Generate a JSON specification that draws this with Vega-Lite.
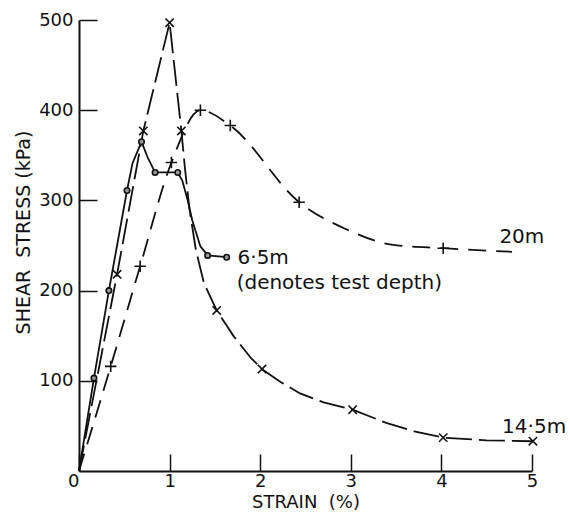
{
  "$schema": "https://vega.github.io/schema/vega-lite/v6.json",
  "width": 453,
  "height": 451,
  "autosize": {"type": "none"},
  "padding": {"left": 79, "top": 20, "right": 38, "bottom": 44},
  "background": "white",
  "config": {
    "view": {"stroke": null},
    "axis": {
      "grid": false,
      "domainColor": "#111",
      "tickColor": "#111",
      "labelColor": "#111",
      "titleColor": "#111",
      "labelFont": "DejaVu Sans",
      "titleFont": "DejaVu Sans",
      "titleFontWeight": "normal",
      "labelFontSize": 18,
      "titleFontSize": 19,
      "domainWidth": 2,
      "tickWidth": 1.5
    }
  },
  "datasets": {
    "curves": [
      {"depth": "6.5 m", "strain": 0, "stress": 0, "measured": false},
      {"depth": "6.5 m", "strain": 0.165, "stress": 103, "measured": true},
      {"depth": "6.5 m", "strain": 0.33, "stress": 200, "measured": true},
      {"depth": "6.5 m", "strain": 0.53, "stress": 311, "measured": true},
      {"depth": "6.5 m", "strain": 0.59, "stress": 341, "measured": false},
      {"depth": "6.5 m", "strain": 0.69, "stress": 365, "measured": true},
      {"depth": "6.5 m", "strain": 0.76, "stress": 347, "measured": false},
      {"depth": "6.5 m", "strain": 0.84, "stress": 331, "measured": true},
      {"depth": "6.5 m", "strain": 1.09, "stress": 331, "measured": true},
      {"depth": "6.5 m", "strain": 1.14, "stress": 322, "measured": false},
      {"depth": "6.5 m", "strain": 1.2, "stress": 300, "measured": false},
      {"depth": "6.5 m", "strain": 1.25, "stress": 278, "measured": false},
      {"depth": "6.5 m", "strain": 1.34, "stress": 249, "measured": false},
      {"depth": "6.5 m", "strain": 1.42, "stress": 239, "measured": true},
      {"depth": "6.5 m", "strain": 1.63, "stress": 237, "measured": true},

      {"depth": "14.5 m", "strain": 0, "stress": 0, "measured": false},
      {"depth": "14.5 m", "strain": 0.42, "stress": 218, "measured": true},
      {"depth": "14.5 m", "strain": 0.71, "stress": 377, "measured": true},
      {"depth": "14.5 m", "strain": 1.0, "stress": 497, "measured": true},
      {"depth": "14.5 m", "strain": 1.13, "stress": 377, "measured": true},
      {"depth": "14.5 m", "strain": 1.17, "stress": 335, "measured": false},
      {"depth": "14.5 m", "strain": 1.22, "stress": 290, "measured": false},
      {"depth": "14.5 m", "strain": 1.29, "stress": 245, "measured": false},
      {"depth": "14.5 m", "strain": 1.38, "stress": 208, "measured": false},
      {"depth": "14.5 m", "strain": 1.52, "stress": 178, "measured": true},
      {"depth": "14.5 m", "strain": 1.71, "stress": 149, "measured": false},
      {"depth": "14.5 m", "strain": 1.9, "stress": 125, "measured": false},
      {"depth": "14.5 m", "strain": 2.02, "stress": 113, "measured": true},
      {"depth": "14.5 m", "strain": 2.22, "stress": 99, "measured": false},
      {"depth": "14.5 m", "strain": 2.44, "stress": 86, "measured": false},
      {"depth": "14.5 m", "strain": 2.7, "stress": 76, "measured": false},
      {"depth": "14.5 m", "strain": 3.02, "stress": 68, "measured": true},
      {"depth": "14.5 m", "strain": 3.4, "stress": 53, "measured": false},
      {"depth": "14.5 m", "strain": 3.7, "stress": 44, "measured": false},
      {"depth": "14.5 m", "strain": 4.02, "stress": 37, "measured": true},
      {"depth": "14.5 m", "strain": 4.5, "stress": 34, "measured": false},
      {"depth": "14.5 m", "strain": 5.01, "stress": 33, "measured": true},

      {"depth": "20 m", "strain": 0, "stress": 0, "measured": false},
      {"depth": "20 m", "strain": 0.35, "stress": 116, "measured": true},
      {"depth": "20 m", "strain": 0.675, "stress": 227, "measured": true},
      {"depth": "20 m", "strain": 1.02, "stress": 342, "measured": true},
      {"depth": "20 m", "strain": 1.34, "stress": 400, "measured": true},
      {"depth": "20 m", "strain": 1.67, "stress": 383, "measured": true},
      {"depth": "20 m", "strain": 2.43, "stress": 298, "measured": true},
      {"depth": "20 m", "strain": 2.95, "stress": 268, "measured": false},
      {"depth": "20 m", "strain": 3.45, "stress": 251, "measured": false},
      {"depth": "20 m", "strain": 4.02, "stress": 247, "measured": true},
      {"depth": "20 m", "strain": 4.78, "stress": 243, "measured": false}
    ],
    "labels": [
      {"label": "6·5m", "strain": 1.75, "stress": 236},
      {"label": "(denotes test depth)", "strain": 1.74, "stress": 208},
      {"label": "20m", "strain": 4.64, "stress": 259},
      {"label": "14·5m", "strain": 4.67, "stress": 49}
    ]
  },
  "data": {"name": "curves"},
  "encoding": {
    "x": {
      "field": "strain",
      "type": "quantitative",
      "scale": {"domain": [0, 5], "nice": false},
      "axis": {
        "title": "STRAIN\u00a0\u00a0(%)",
        "values": [0, 1, 2, 3, 4, 5],
        "tickSize": -17,
        "labelPadding": 18,
        "labelFlush": false,
        "labelAlign": {"condition": {"test": "datum.value == 0", "value": "right"}, "value": "center"},
        "titleFontSize": 18,
        "titlePadding": 3
      }
    },
    "y": {
      "field": "stress",
      "type": "quantitative",
      "scale": {"domain": [0, 500], "nice": false},
      "axis": {
        "title": "SHEAR\u00a0\u00a0STRESS (kPa)",
        "values": [100, 200, 300, 400, 500],
        "tickSize": -18,
        "labelPadding": 24,
        "titleX": -56,
        "titleY": 212,
        "titleBaseline": "middle"
      }
    }
  },
  "layer": [
    {
      "transform": [{"filter": "datum.depth == '6.5 m'"}],
      "mark": {"type": "line", "color": "#111", "strokeWidth": 1.8, "interpolate": "linear"}
    },
    {
      "transform": [{"filter": "datum.depth == '14.5 m'"}],
      "mark": {"type": "line", "color": "#111", "strokeWidth": 1.8, "interpolate": "linear", "strokeDash": [26, 7]}
    },
    {
      "transform": [{"filter": "datum.depth == '20 m'"}],
      "mark": {"type": "line", "color": "#111", "strokeWidth": 1.8, "interpolate": "monotone", "strokeDash": [18, 10]}
    },
    {
      "transform": [{"filter": "datum.depth == '6.5 m' && datum.measured"}],
      "mark": {"type": "point", "shape": "circle", "size": 30, "filled": false, "stroke": "#111", "fill": "#999", "fillOpacity": 1, "strokeWidth": 1.6, "opacity": 1}
    },
    {
      "transform": [{"filter": "datum.depth == '14.5 m' && datum.measured"}],
      "mark": {"type": "point", "shape": "M-1,-1L1,1M-1,1L1,-1", "size": 70, "filled": false, "stroke": "#111", "strokeWidth": 1.6, "opacity": 1}
    },
    {
      "transform": [{"filter": "datum.depth == '20 m' && datum.measured"}],
      "mark": {"type": "point", "shape": "M-1,0L1,0M0,-1L0,1", "size": 130, "filled": false, "stroke": "#111", "strokeWidth": 1.6, "opacity": 1}
    },
    {
      "data": {"name": "labels"},
      "mark": {"type": "text", "align": "left", "baseline": "middle", "font": "DejaVu Sans", "fontSize": 20, "color": "#111"},
      "encoding": {"text": {"field": "label"}}
    }
  ]
}
